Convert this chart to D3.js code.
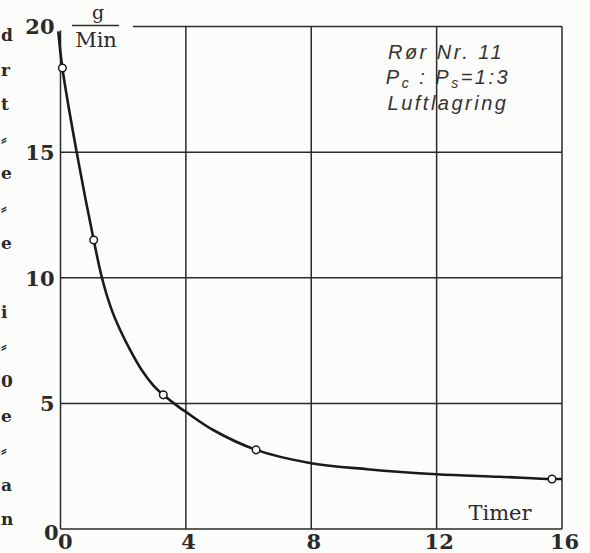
<!DOCTYPE html>
<html>
<head>
<meta charset="utf-8">
<script src="https://cdn.jsdelivr.net/npm/d3@7"></script>
<style>
  body { margin: 0; background: #fcfcfa; }
  svg { display: block; }
</style>
</head>
<body>
<script>
var width = 590;
var height = 553;

// measured points (hours, g/min)
var pointHours = [0.06, 1.06, 3.28, 6.24, 15.68];
var pointRates = [18.35, 11.5, 5.34, 3.15, 1.99];

// drawn curve
var curveHours = [-0.07, 0.06, 0.52, 1.06, 1.33, 1.63, 1.90, 2.22, 2.59, 2.96, 3.28, 3.81, 4.0, 4.87, 6.24, 8.0, 9.78, 12, 14, 15.68, 16];
var curveRates = [19.81, 18.35, 14.97, 11.5, 9.96, 8.73, 7.93, 7.13, 6.33, 5.72, 5.34, 4.82, 4.66, 3.94, 3.15, 2.62, 2.38, 2.18, 2.08, 1.99, 1.99];

var xTicks = [0, 4, 8, 12, 16];
var yTicks = [0, 5, 10, 15, 20];

// edge of the neighbouring page
var marginChars = ["d", "r", "t", "⸗", "e", "⸗", "e", "", "i", "⸗", "0", "e", "⸗", "a", "n"];

var svg = d3.select("body")
    .append("svg")
    .attr("width", width)
    .attr("height", height);

var x = d3.scaleLinear().domain([0, 16]).range([60.5, 562]);
var y = d3.scaleLinear().domain([0, 20]).range([529, 26.5]);

var ink = "#2a2a2a";

// left page text fragments
svg.append("g")
    .selectAll("text")
    .data(marginChars)
    .enter().append("text")
    .attr("x", 1)
    .attr("y", function(d, i) { return 41 + i * 34.6; })
    .style("font-family", "DejaVu Serif")
    .style("font-weight", "bold")
    .style("font-size", "17px")
    .style("fill", ink)
    .text(function(d) { return d; });

// grid
var grid = svg.append("g")
    .attr("stroke", ink)
    .attr("stroke-width", 1.5)
    .attr("fill", "none");

grid.selectAll("line.v")
    .data(xTicks)
    .enter().append("line")
    .attr("class", "v")
    .attr("x1", function(d) { return x(d); })
    .attr("x2", function(d) { return x(d); })
    .attr("y1", function(d) { return d == 0 ? y(20) + 4 : y(20); })
    .attr("y2", y(0));

grid.selectAll("line.h")
    .data(yTicks)
    .enter().append("line")
    .attr("class", "h")
    .attr("x1", function(d) { return d == 20 ? 133 : x(0); })
    .attr("x2", x(16))
    .attr("y1", function(d) { return y(d); })
    .attr("y2", function(d) { return y(d); });

// tick labels
var yAxis = svg.append("g")
    .attr("transform", "translate(" + x(0) + ",0)")
    .call(d3.axisLeft(y).tickValues(yTicks).tickSize(0).tickPadding(6));

var xAxis = svg.append("g")
    .attr("transform", "translate(0," + y(0) + ")")
    .call(d3.axisBottom(x).tickValues(xTicks).tickSize(0).tickPadding(5));

svg.selectAll(".domain").remove();
svg.selectAll(".tick text")
    .style("font-family", "DejaVu Serif")
    .style("font-weight", "bold")
    .style("font-size", "21px")
    .style("fill", ink);
yAxis.selectAll(".tick text")
    .attr("dx", function(d) { return d == 0 ? "0.2em" : "0"; })
    .attr("dy", function(d) { return d == 0 ? "0.5em" : "0.35em"; });
xAxis.selectAll(".tick text")
    .attr("dx", function(d) { return d == 0 ? "0.2em" : "0.1em"; });

// unit label
svg.append("text")
    .attr("x", 98).attr("y", 18.5)
    .attr("text-anchor", "middle")
    .style("font-family", "DejaVu Serif")
    .style("font-size", "19px")
    .style("fill", ink)
    .text("g");
svg.append("line")
    .attr("x1", 72).attr("x2", 119)
    .attr("y1", 25.5).attr("y2", 25.5)
    .attr("stroke", ink).attr("stroke-width", 1.5);
svg.append("text")
    .attr("x", 96).attr("y", 47)
    .attr("text-anchor", "middle")
    .style("font-family", "DejaVu Serif")
    .style("font-size", "21px")
    .style("fill", ink)
    .text("Min");

svg.append("text")
    .attr("x", 500).attr("y", 520)
    .attr("text-anchor", "middle")
    .style("font-family", "DejaVu Serif")
    .style("font-size", "21px")
    .style("fill", ink)
    .text("Timer");

// handwritten note
var note = svg.append("g")
    .style("font-family", "'Liberation Sans', sans-serif")
    .style("font-style", "italic")
    .style("font-size", "20px")
    .style("letter-spacing", "2.5px")
    .style("fill", "#333");

note.append("text").attr("x", 446).attr("y", 59)
    .attr("text-anchor", "middle")
    .text("Rør Nr. 11");
var ratio = note.append("text").attr("x", 448).attr("y", 84)
    .attr("text-anchor", "middle");
ratio.append("tspan").text("P");
ratio.append("tspan").attr("dy", 4).style("font-size", "14px").text("c");
ratio.append("tspan").attr("dy", -4).text(" : P");
ratio.append("tspan").attr("dy", 4).style("font-size", "14px").text("s");
ratio.append("tspan").attr("dy", -4).text("=1:3");
note.append("text").attr("x", 448).attr("y", 110)
    .attr("text-anchor", "middle")
    .text("Luftlagring");

// curve
var line = d3.line()
    .x(function(d) { return x(curveHours[d]); })
    .y(function(d) { return y(curveRates[d]); })
    .curve(d3.curveCatmullRom.alpha(0.5));

svg.append("path")
    .attr("d", line(d3.range(curveHours.length)))
    .attr("fill", "none")
    .attr("stroke", "#1a1a1a")
    .attr("stroke-width", 2.6);

svg.append("g")
    .selectAll("circle")
    .data(d3.range(pointHours.length))
    .enter().append("circle")
    .attr("cx", function(i) { return x(pointHours[i]); })
    .attr("cy", function(i) { return y(pointRates[i]); })
    .attr("r", 3.8)
    .attr("fill", "#fff")
    .attr("stroke", "#1a1a1a")
    .attr("stroke-width", 1.5);
</script>
</body>
</html>
